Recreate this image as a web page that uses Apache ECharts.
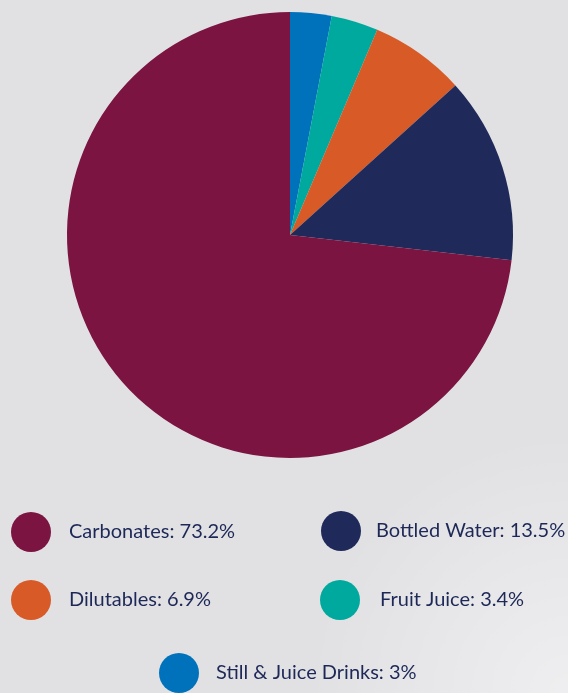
<!DOCTYPE html>
<html>
<head>
<meta charset="utf-8">
<style>
  html, body { margin: 0; padding: 0; background: #e1e1e4; }
  #chart { width: 568px; height: 693px; }
</style>
<script src="https://cdn.jsdelivr.net/npm/echarts@6/dist/echarts.min.js"></script>
</head>
<body>
<div id="chart"></div>
<script>
// Soft drinks market share by category (%), in clockwise order from 12 o'clock
const categories = ['Still & Juice Drinks', 'Fruit Juice', 'Dilutables', 'Bottled Water', 'Carbonates'];
const shares = [3, 3.4, 6.9, 13.5, 73.2];
const colors = ['#0072bc', '#00a99d', '#d85a27', '#1f2a5a', '#7b1441'];

// Legend placement: one block per category (left/top of the 40px dot, gap to text)
const legendSpots = {
  'Carbonates':           { left: 11,  top: 512, gap: 13 },
  'Bottled Water':        { left: 321, top: 511, gap: 10 },
  'Dilutables':           { left: 11,  top: 580, gap: 13 },
  'Fruit Juice':          { left: 320, top: 580, gap: 15 },
  'Still & Juice Drinks': { left: 159, top: 653, gap: 12 }
};

const valueOf = name => shares[categories.indexOf(name)];

const legends = Object.keys(legendSpots).map(name => ({
  data: [name],
  left: legendSpots[name].left,
  top: legendSpots[name].top,
  orient: 'horizontal',
  icon: 'circle',
  itemWidth: 40,
  itemHeight: 40,
  padding: 0,
  selectedMode: false,
  formatter: n => n + ': ' + valueOf(n) + '%',
  textStyle: {
    fontFamily: 'Lato',
    fontSize: 20,
    color: '#1d2857',
    padding: [2, 0, 0, legendSpots[name].gap]
  }
}));

const chart = echarts.init(document.getElementById('chart'), null, { renderer: 'canvas' });
chart.setOption({
  backgroundColor: '#e1e1e4',
  animation: false,
  // faint light sheen in the lower right of the backdrop
  graphic: [{
    type: 'circle',
    z: -10,
    silent: true,
    shape: { cx: 568, cy: 693, r: 260 },
    style: {
      fill: new echarts.graphic.RadialGradient(0.5, 0.5, 0.5, [
        { offset: 0, color: 'rgba(255,255,255,0.45)' },
        { offset: 1, color: 'rgba(255,255,255,0)' }
      ])
    }
  }],
  legend: legends,
  series: [{
    type: 'pie',
    center: [290, 235],
    radius: [0, 223],
    startAngle: 90,
    clockwise: true,
    label: { show: false },
    labelLine: { show: false },
    emphasis: { disabled: true },
    itemStyle: { borderWidth: 0 },
    data: categories.map((name, i) => ({
      name: name,
      value: shares[i],
      itemStyle: { color: colors[i] }
    }))
  }]
});
</script>
</body>
</html>
